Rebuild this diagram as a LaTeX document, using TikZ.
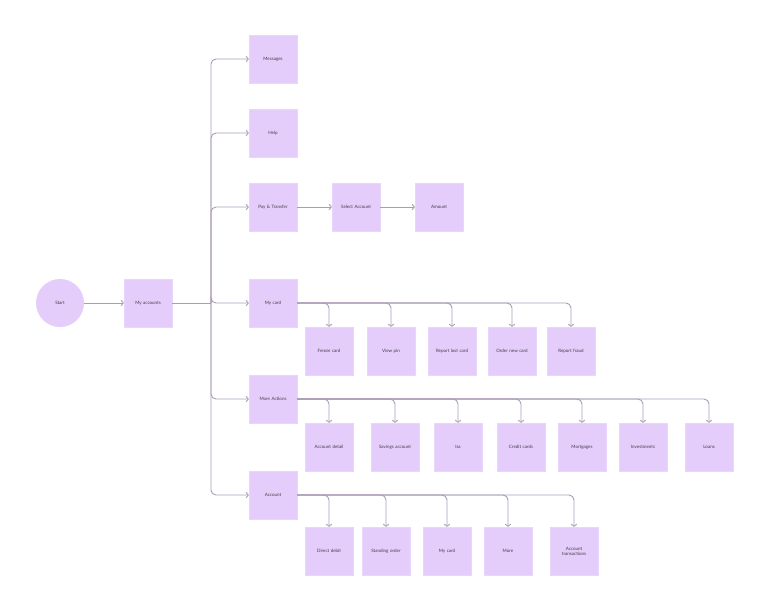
\documentclass[tikz,border=0pt]{standalone}
\usepackage{fontspec}
\setmainfont{Lato}
\usetikzlibrary{arrows.meta}
\begin{document}
\begin{tikzpicture}[x=1pt,y=-1pt,
 box/.style={fill=boxc,draw=boxc!80!white,minimum width=48pt,minimum height=48pt,inner sep=1pt,font=\fontsize{4.5}{5}\selectfont,text=black!75,align=center,text width=44pt},
 con/.style={draw=linec,line width=0.9pt,rounded corners=5pt,-{To[length=3pt,width=6pt]}}]
\definecolor{boxc}{HTML}{E4CCFB}
\definecolor{linec}{HTML}{A99CB5}
\useasboundingbox (0,0) rectangle (768,611);
\node[circle,fill=boxc,minimum size=48pt,font=\fontsize{4.5}{5}\selectfont,text=black!75] (start) at (60,303) {Start};
\node[box] (acc) at (148,303) {My accounts};
\node[box] (msg) at (273,59) {Messages};
\node[box] (help) at (273,133) {Help};
\node[box] (pay) at (273,207) {Pay \& Transfer};
\node[box] (sel) at (356,207) {Select Account};
\node[box] (amt) at (439,207) {Amount};
\node[box] (card) at (273,303) {My card};
\node[box] (more) at (273,399) {More Actions};
\node[box] (acct) at (273,495) {Account};
\coordinate (j) at (211,303);
\draw[con] (start) -- (acc);
\draw[con,-] (acc) -- (j);
\foreach \n in {msg,help,pay,card,more,acct} \draw[con] (j) |- (\n.west);
\draw[con] (pay) -- (sel);
\draw[con] (sel) -- (amt);
\foreach \x/\t [count=\i] in {329/Freeze card,391/View pin,452/Report lost card,512/Order new card,571/Report fraud}{
 \node[box] (c\i) at (\x,351) {\t};
 \draw[con] (card.east) -| (c\i.north);}
\foreach \x/\t [count=\i] in {329/Account detail,395/Savings account,458/Isa,521/Credit cards,582/Mortgages,643/Investments,709/Loans}{
 \node[box] (m\i) at (\x,447) {\t};
 \draw[con] (more.east) -| (m\i.north);}
\foreach \x/\t [count=\i] in {329/Direct debit,386/Standing order,447/My card,508/More,574/{Account\\transactions}}{
 \node[box] (a\i) at (\x,551) {\t};
 \draw[con] (acct.east) -| (a\i.north);}
\end{tikzpicture}
\end{document}
